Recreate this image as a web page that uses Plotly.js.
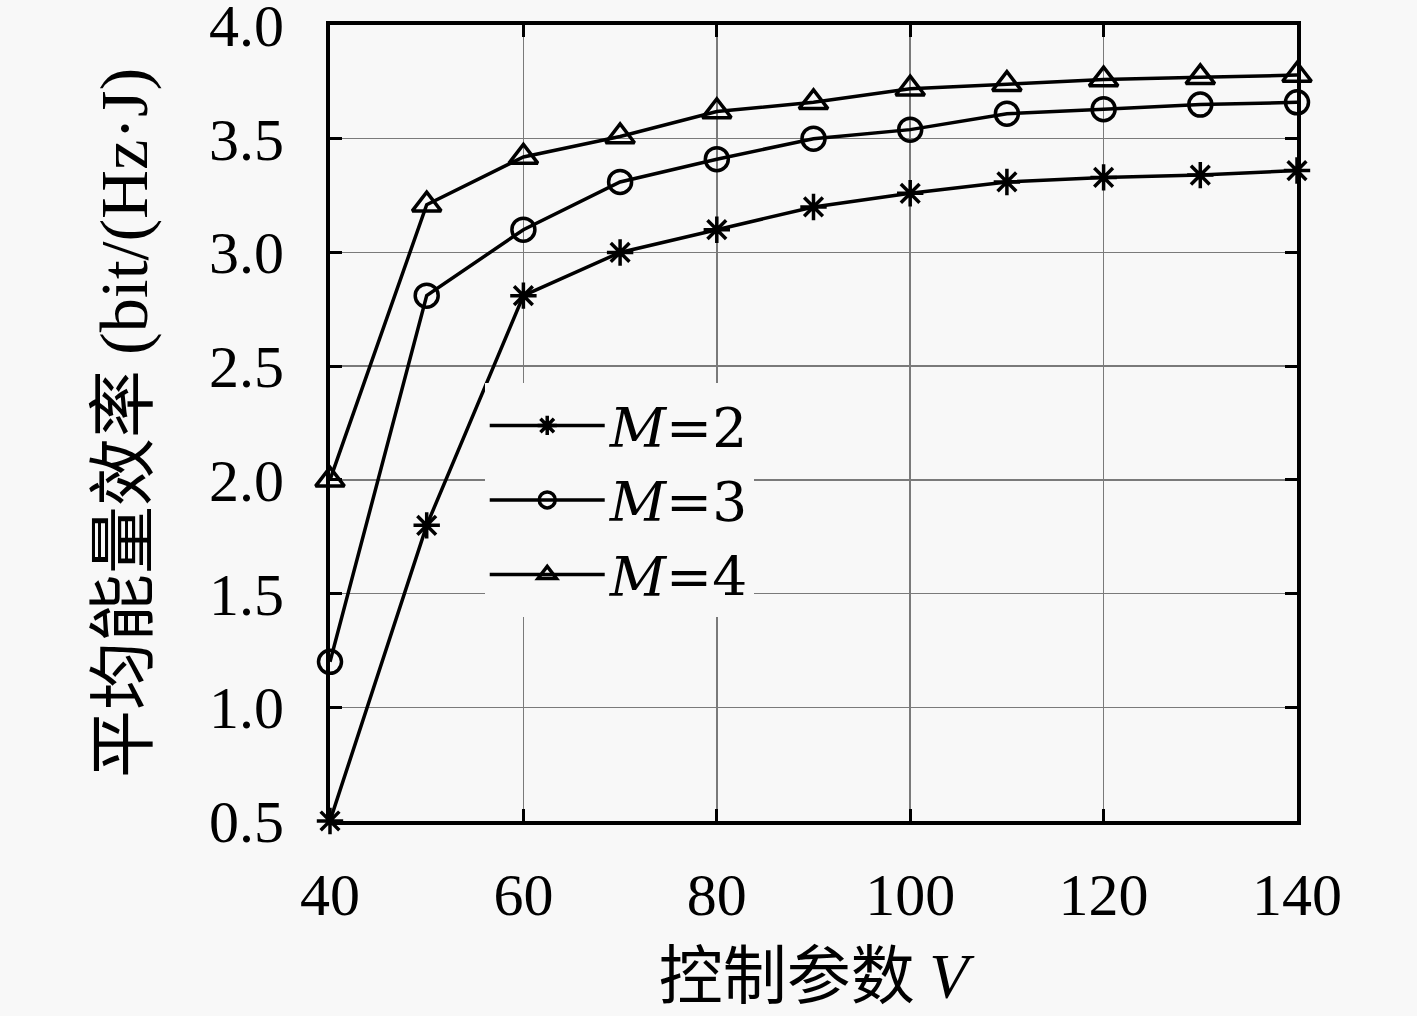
<!DOCTYPE html>
<html>
<head>
<meta charset="utf-8">
<script src="https://cdn.plot.ly/plotly-3.0.1.min.js"></script>
<style>
  html, body { margin: 0; padding: 0; background: #f8f8f8; }
  #chart { width: 1417px; height: 1016px; }
</style>
</head>
<body>
<div id="chart"></div>
<script>
// control parameter V
const vValues = [40, 50, 60, 70, 80, 90, 100, 110, 120, 130, 140];

// average energy efficiency, one array per M
const effM2 = [0.50, 1.80, 2.81, 3.00, 3.10, 3.20, 3.26, 3.31, 3.33, 3.34, 3.36];
const effM3 = [1.20, 2.81, 3.10, 3.31, 3.41, 3.50, 3.54, 3.61, 3.63, 3.65, 3.66];
const effM4 = [2.00, 3.21, 3.42, 3.51, 3.62, 3.66, 3.72, 3.74, 3.76, 3.77, 3.78];

const seriesNames = ['<i>M</i>=2', '<i>M</i>=3', '<i>M</i>=4'];

const xTicks = [40, 60, 80, 100, 120, 140];
const yTicks = [0.5, 1.0, 1.5, 2.0, 2.5, 3.0, 3.5, 4.0];

const serif = '"Liberation Serif", "DejaVu Serif", serif';
const cjk = '"Noto Sans CJK SC", "Liberation Serif", serif';

function makeTrace(y, name, symbol, size) {
  return {
    x: vValues,
    y: y,
    name: name,
    type: 'scatter',
    mode: 'lines+markers',
    cliponaxis: false,
    line: { color: '#000', width: 3.5 },
    marker: { symbol: symbol, size: size, color: '#000', line: { color: '#000', width: 3.5 } }
  };
}

const traces = [
  makeTrace(effM2, seriesNames[0], 'asterisk-open', 22),
  makeTrace(effM3, seriesNames[1], 'circle-open', 23),
  makeTrace(effM4, seriesNames[2], 'triangle-up-open', 25)
];

const axisCommon = {
  showline: true,
  linecolor: '#000',
  linewidth: 4,
  mirror: 'ticks',
  ticks: 'inside',
  ticklen: 12,
  tickwidth: 3,
  tickcolor: '#000',
  showgrid: true,
  gridcolor: '#7a7a7a',
  gridwidth: 1.5,
  zeroline: false,
  ticklabeloverflow: 'allow',
  tickfont: { family: serif, size: 60, color: '#000' }
};

const layout = {
  width: 1417,
  height: 1016,
  paper_bgcolor: '#f8f8f8',
  plot_bgcolor: '#f8f8f8',
  margin: { l: 330, r: 120, t: 25, b: 195 },
  showlegend: true,
  legend: {
    x: 0.16, y: 0.55,
    xanchor: 'left', yanchor: 'top',
    bgcolor: '#f8f8f8',
    borderwidth: 0,
    itemwidth: 115,
    tracegroupgap: 0,
    font: { family: '"DejaVu Serif", serif', size: 55, color: '#000' }
  },
  xaxis: Object.assign({}, axisCommon, {
    range: [40, 140],
    tickvals: xTicks,
    ticktext: xTicks.map(String),
    ticklabelstandoff: 18,
    title: { text: '控制参数 <i><span style="font-family:Liberation Serif">V</span></i>', font: { family: cjk, size: 64, color: '#000' }, standoff: 14 }
  }),
  yaxis: Object.assign({}, axisCommon, {
    range: [0.4999, 4.0001],
    tickvals: yTicks,
    ticktext: yTicks.map(v => v.toFixed(1)),
    ticklabelstandoff: 30,
    title: { text: '平均能量效率 <span style="font-family:Liberation Serif">(bit/(Hz·J)</span>', font: { family: cjk, size: 68, color: '#000' }, standoff: 40 }
  })
};

Plotly.newPlot('chart', traces, layout, { staticPlot: true });
</script>
</body>
</html>
